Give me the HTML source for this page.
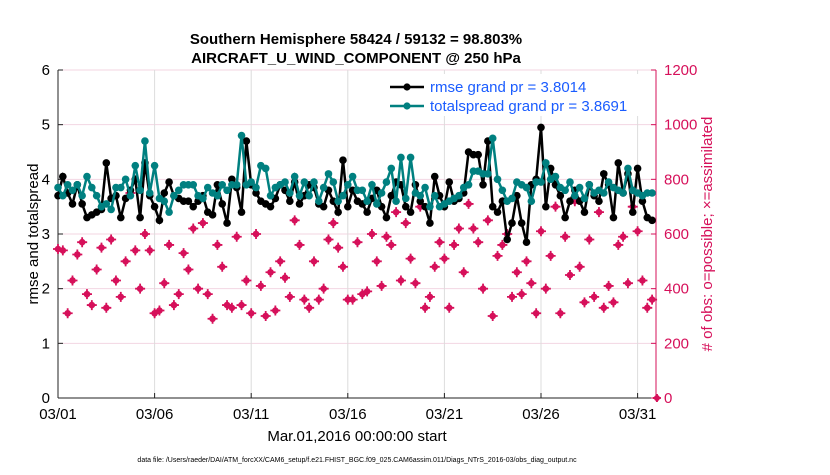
<!DOCTYPE html>
<html><head><meta charset="utf-8"><style>
body{margin:0;background:#fff;font-family:"Liberation Sans",sans-serif}
svg text{font-family:"Liberation Sans",sans-serif}
</style></head><body>
<svg id="c" width="830" height="470" xmlns="http://www.w3.org/2000/svg">
<rect width="830" height="470" fill="#fff"/>
<text x="356" y="44" text-anchor="middle" font-size="15" font-weight="bold">Southern Hemisphere 58424 / 59132 = 98.803%</text>
<text x="356" y="63" text-anchor="middle" font-size="15" font-weight="bold">AIRCRAFT_U_WIND_COMPONENT @ 250 hPa</text>
<text transform="translate(38,234) rotate(-90)" text-anchor="middle" font-size="15">rmse and totalspread</text>
<text transform="translate(712,234) rotate(-90)" text-anchor="middle" font-size="15" fill="#d6105a"># of obs: o=possible; ×=assimilated</text>
<text x="357" y="441" text-anchor="middle" font-size="15">Mar.01,2016 00:00:00 start</text>
<text x="357" y="462" text-anchor="middle" font-size="7">data file: /Users/raeder/DAI/ATM_forcXX/CAM6_setup/f.e21.FHIST_BGC.f09_025.CAM6assim.011/Diags_NTrS_2016-03/obs_diag_output.nc</text>
<g id="g"></g>
</svg>
<script>
const tickLabels=["03/01","03/06","03/11","03/16","03/21","03/26","03/31"];
const tickDays=[0,5,10,15,20,25,30];
const yTicks=[0,1,2,3,4,5,6];
const y2Ticks=[0,200,400,600,800,1000,1200];
const rmse=[3.7,4.05,3.75,3.55,3.9,3.55,3.3,3.35,3.4,3.45,4.3,3.65,3.7,3.3,3.65,3.8,4.0,3.3,4.3,3.7,3.5,3.25,3.75,3.95,3.7,3.65,3.6,3.6,3.5,3.6,3.7,3.4,3.35,3.9,3.55,3.2,4.0,3.85,3.4,4.7,3.9,3.75,3.6,3.55,3.5,3.65,3.9,3.8,3.6,3.95,3.55,3.7,3.9,3.85,3.55,3.5,3.8,3.6,3.4,4.35,3.5,3.8,3.6,3.55,3.4,3.65,3.8,3.5,3.3,3.7,3.95,3.9,3.5,3.4,3.9,3.6,3.5,3.2,4.05,3.7,3.5,3.95,3.6,3.65,3.75,4.5,4.45,4.45,3.9,4.7,3.5,3.4,3.6,2.9,3.2,3.7,3.2,2.85,3.9,4.0,4.95,3.5,4.2,3.9,3.7,3.3,3.6,3.8,3.6,3.4,3.9,3.7,3.6,4.1,3.9,3.3,4.3,3.75,4.1,3.4,4.2,3.6,3.3,3.25];
const spread=[3.85,3.7,3.9,3.8,3.9,3.7,4.05,3.85,3.7,3.5,3.55,3.45,3.85,3.85,4.0,3.7,4.25,3.8,4.7,3.75,4.25,3.65,3.6,3.4,3.7,3.8,3.9,3.9,3.9,3.7,3.65,3.85,3.75,3.7,3.9,3.8,3.9,3.9,4.8,3.9,3.95,3.85,4.25,4.2,3.7,3.85,3.9,3.95,3.75,4.05,3.7,3.95,3.7,3.95,3.6,3.85,4.1,3.95,3.6,3.7,3.9,4.05,3.8,3.8,3.6,3.9,3.55,3.75,3.95,4.2,3.6,4.4,3.65,4.4,3.75,3.7,3.85,3.5,3.7,3.5,3.55,3.6,3.65,3.7,3.85,3.9,4.15,4.15,4.1,4.1,4.75,4.0,3.8,3.6,3.65,3.95,3.9,3.85,3.6,3.95,3.95,4.3,4.0,4.05,3.85,3.8,3.95,3.7,3.85,3.65,3.9,3.75,3.8,3.75,3.95,3.85,3.8,3.75,4.2,3.8,3.75,3.7,3.75,3.75];
const obs=[545,540,310,430,525,570,380,340,470,550,330,580,430,370,500,750,540,400,600,540,310,320,420,560,340,380,530,470,620,400,640,380,290,560,480,340,330,590,340,430,310,600,410,300,460,320,500,440,370,650,560,360,330,500,360,400,580,640,550,480,360,360,570,380,390,600,500,410,590,560,680,430,640,510,420,700,330,370,480,570,510,330,560,620,460,710,620,570,400,650,300,520,560,600,370,460,380,500,420,310,610,400,520,700,310,590,450,720,480,350,580,370,680,330,410,350,560,590,420,700,610,430,330,360];
const L=58,R=656,T=70,B=398;
const X=d=>L+d*19.32, Y=v=>B-v*(B-T)/6, Y2=v=>B-v*(B-T)/1200;
const NS="http://www.w3.org/2000/svg", g=document.getElementById('g');
function mk(t,a,p){const e=document.createElementNS(NS,t);for(const k in a)e.setAttribute(k,a[k]);(p||g).appendChild(e);return e;}
yTicks.forEach(v=>{const e=mk('line',{x1:L,x2:R,y1:Y(v),y2:Y(v),stroke:'#f3d6e2','stroke-width':1});

});
tickDays.forEach(d=>{const e=mk('line',{x1:X(d),x2:X(d),y1:T,y2:B,stroke:'#dcdcdc','stroke-width':1});

});
mk('line',{x1:L,x2:L,y1:T,y2:B,stroke:'#222'});
mk('line',{x1:L,x2:R,y1:B,y2:B,stroke:'#222'});
mk('line',{x1:R,x2:R,y1:T,y2:B,stroke:'#d6105a'});
yTicks.forEach(v=>{mk('line',{x1:L,x2:L+5,y1:Y(v),y2:Y(v),stroke:'#222'});
const t=mk('text',{x:L-8,y:Y(v)+5,'text-anchor':'end','font-size':15});t.textContent=v;

});
y2Ticks.forEach(v=>{mk('line',{x1:R-5,x2:R,y1:Y2(v),y2:Y2(v),stroke:'#d6105a'});
const t=mk('text',{x:R+8,y:Y2(v)+5,'font-size':15,fill:'#d6105a'});t.textContent=v;

});
tickDays.forEach((d,i)=>{mk('line',{x1:X(d),x2:X(d),y1:B-5,y2:B,stroke:'#222'});
const t=mk('text',{x:X(d),y:B+21,'text-anchor':'middle','font-size':15});t.textContent=tickLabels[i];

});
const og=mk('g',{});


obs.forEach((v,i)=>{const x=X(i*0.25),y=Y2(v);
mk('circle',{cx:x,cy:y,r:3.3,fill:'#d6105a'},og);
mk('path',{d:`M${x-5} ${y}H${x+5}M${x} ${y-5}V${y+5}`,stroke:'#d6105a','stroke-width':1.8},og);});
mk('path',{d:`M${X(31)-4} ${Y2(0)}H${X(31)+4}M${X(31)} ${Y2(0)-4}V${Y2(0)+4}`,stroke:'#d6105a','stroke-width':2},og);
mk('circle',{cx:X(31),cy:Y2(0),r:3,fill:'#d6105a'},og);
function series(arr,col,name){const sg=mk('g',{});


mk('polyline',{points:arr.map((v,i)=>X(i*0.25)+','+Y(v)).join(' '),fill:'none',stroke:col,'stroke-width':2.5},sg);
arr.forEach((v,i)=>mk('circle',{cx:X(i*0.25),cy:Y(v),r:3.8,fill:col},sg));}
series(rmse,'#000','rmse-series');
series(spread,'#008080','totalspread-series');
const lg=mk('g',{});


mk('rect',{x:384,y:74,width:270,height:42,fill:'#fff'},lg);
[['#000','rmse grand pr = 3.8014',87],['#008080','totalspread grand pr = 3.8691',106]].forEach(([c,s,y])=>{
mk('line',{x1:390,x2:424,y1:y,y2:y,stroke:c,'stroke-width':2.5},lg);
mk('circle',{cx:407,cy:y,r:3.6,fill:c},lg);
const t=mk('text',{x:430,y:y+5,'font-size':15,fill:'#1a5cff'},lg);t.textContent=s;

});
</script>
</body></html>
